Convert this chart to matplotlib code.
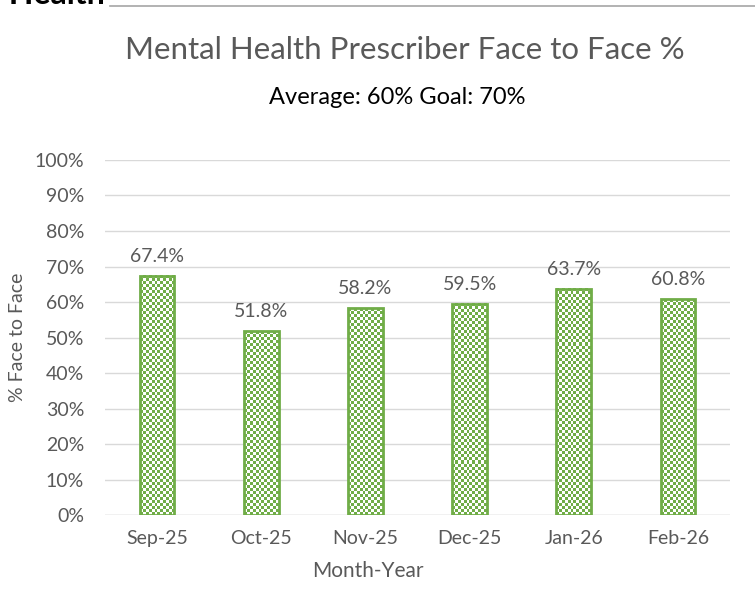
import numpy as np
import matplotlib
matplotlib.use("Agg")
import matplotlib.pyplot as plt
from matplotlib.lines import Line2D

plt.rcParams['font.family'] = ['Lato', 'DejaVu Sans']

months = ["Sep-25", "Oct-25", "Nov-25", "Dec-25", "Jan-26", "Feb-26"]
pct = [67.4, 51.8, 58.2, 59.5, 63.7, 60.8]

green = "#70AD47"
grey = "#595959"

fig = plt.figure(figsize=(7.55, 5.93), dpi=100)
ax = fig.add_axes([0.139, 0.1315, 0.828, 0.5987])

x = np.arange(len(months))
bars = ax.bar(x, pct, width=0.335, facecolor="none", edgecolor=green, linewidth=2, zorder=3)

ax.set_xlim(-0.5, len(months) - 0.5)
ax.set_ylim(0, 100)
fig.canvas.draw()

# checkerboard fill, about 3px per cell
g = matplotlib.colors.to_rgb(green)
for b in bars:
    x0, y0 = b.get_x(), b.get_y()
    w, h = b.get_width(), b.get_height()
    p0 = ax.transData.transform((x0, y0))
    p1 = ax.transData.transform((x0 + w, y0 + h))
    nx = max(1, int(round((p1[0] - p0[0]) / 3.0)))
    ny = max(1, int(round((p1[1] - p0[1]) / 3.0)))
    board = np.add.outer(np.arange(ny), np.arange(nx)) % 2
    rgb = np.ones((ny, nx, 3))
    rgb[board == 0] = g
    ax.imshow(rgb, extent=(x0, x0 + w, y0, y0 + h), aspect="auto",
              interpolation="nearest", zorder=2, origin="lower")

ax.set_xlim(-0.5, len(months) - 0.5)
ax.set_ylim(0, 100)

for xi, v in zip(x, pct):
    ax.annotate(f"{v:.1f}%", (xi, v), xytext=(0, 8), textcoords="offset points",
                ha="center", va="bottom", fontsize=14, color=grey)

ax.set_yticks(np.arange(0, 101, 10))
ax.set_yticklabels([f"{t}%" for t in range(0, 101, 10)])
ax.set_xticks(x)
ax.set_xticklabels(months)
ax.tick_params(axis="both", length=0, labelsize=14, labelcolor=grey)
ax.tick_params(axis="y", pad=15)
ax.tick_params(axis="x", pad=11)
ax.grid(axis="y", color="#D9D9D9", linewidth=1, zorder=0)
for s in ax.spines.values():
    s.set_visible(False)
ax.axhline(0, color="#D9D9D9", linewidth=1, zorder=1)

ax.set_ylabel("% Face to Face", fontsize=14, color=grey, labelpad=6)
ax.set_xlabel("Month-Year", fontsize=15, color=grey)
ax.xaxis.set_label_coords(0.421, -0.13)

fig.text(0.536, 0.916, "Mental Health Prescriber Face to Face %", ha="center", va="center",
         fontsize=22.5, color=grey)
fig.text(0.526, 0.835, "Average: 60% Goal: 70%", ha="center", va="center",
         fontsize=17, color="black")

# piece of heading cut off at the top of the page
fig.text(-0.015, 0.994, "r Health", ha="left", va="baseline", fontsize=23,
         fontweight="bold", color="black")
fig.add_artist(Line2D([0.146, 1], [0.99, 0.99], color="#A6A6A6", linewidth=1.2,
                      transform=fig.transFigure))

fig.savefig("out.png", dpi=100)
